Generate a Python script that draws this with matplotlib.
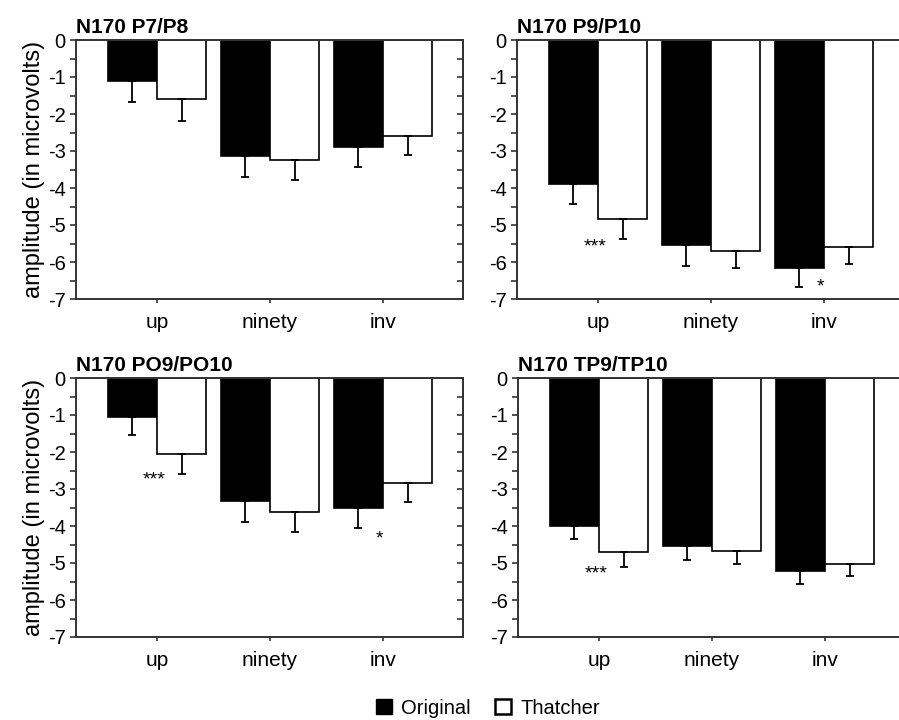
import numpy as np
import matplotlib.pyplot as plt
from matplotlib.patches import Patch

plt.rcParams['font.family'] = ['Liberation Sans', 'DejaVu Sans']

# conditions and electrode sites
conditions = ["up", "ninety", "inv"]
titles = ["N170 P7/P8", "N170 P9/P10", "N170 PO9/PO10", "N170 TP9/TP10"]

# mean amplitudes (microvolts) and error bars, one row per panel
original_mean = [[-1.12, -3.13, -2.89],
                 [-3.88, -5.55, -6.17],
                 [-1.05, -3.33, -3.52],
                 [-3.99, -4.54, -5.22]]
original_err = [[0.56, 0.58, 0.53],
                [0.56, 0.55, 0.50],
                [0.49, 0.57, 0.54],
                [0.36, 0.38, 0.36]]
thatcher_mean = [[-1.60, -3.25, -2.59],
                 [-4.85, -5.69, -5.59],
                 [-2.05, -3.61, -2.85],
                 [-4.71, -4.68, -5.04]]
thatcher_err = [[0.59, 0.54, 0.51],
                [0.54, 0.48, 0.46],
                [0.54, 0.56, 0.51],
                [0.41, 0.36, 0.32]]

# significance marks: panel, condition, label, height
sig_panel = [1, 1, 2, 2, 3]
sig_cond = [0, 2, 0, 2, 0]
sig_label = ["***", "*", "***", "*", "***"]
sig_y = [-5.59, -6.67, -2.75, -4.34, -5.30]

W, H = 899, 720
fig = plt.figure(figsize=(W / 100, H / 100), dpi=100)

# axes boxes in pixels: left, top, right, bottom
boxes = [(76, 40, 463, 299), (517, 40, 904, 299),
         (76, 378, 463, 637), (518, 378, 905, 637)]

spine_col = "#333333"
w = 0.435
x = np.arange(len(conditions))
axes = []

for i, (l, t, r, b) in enumerate(boxes):
    ax = fig.add_axes([l / W, 1 - b / H, (r - l) / W, (b - t) / H])
    axes.append(ax)
    ax.bar(x - w / 2, original_mean[i], w, color="black", edgecolor="black",
           linewidth=1.2, zorder=2)
    ax.bar(x + w / 2, thatcher_mean[i], w, color="white", edgecolor="black",
           linewidth=1.2, zorder=2)
    # one-sided (downward) error bars
    ax.errorbar(x - w / 2, original_mean[i],
                yerr=[original_err[i], np.zeros(3)], fmt="none",
                ecolor="black", elinewidth=1.3, capsize=2.6, capthick=1.3, zorder=3)
    ax.errorbar(x + w / 2, thatcher_mean[i],
                yerr=[thatcher_err[i], np.zeros(3)], fmt="none",
                ecolor="black", elinewidth=1.3, capsize=2.6, capthick=1.3, zorder=3)

    ax.set_xlim(-0.717, 2.708)
    ax.set_ylim(-7, 0)
    ax.set_xticks(x)
    ax.set_xticklabels(conditions, fontsize=15)
    ax.set_yticks(np.arange(-7, 1))
    ax.set_yticklabels([str(v) for v in range(-7, 1)], fontsize=14.5)
    ax.set_yticks(np.arange(-6.5, 0, 1.0), minor=True)
    ax.tick_params(axis="y", which="both", direction="out", length=4.5,
                   width=1.2, color=spine_col, pad=3)
    ax.tick_params(axis="x", direction="out", length=3, width=1.2,
                   color=spine_col, pad=7)
    for side in ["left", "top", "bottom", "right"]:
        ax.spines[side].set_color(spine_col)
        ax.spines[side].set_linewidth(1.4)
    ax.set_title(titles[i], loc="left", fontsize=15, fontweight="bold", pad=5)

    if i % 2 == 0:
        ax.set_ylabel("amplitude (in microvolts)", fontsize=17, labelpad=2)
        sec = ax.secondary_yaxis("right")
        sec.set_yticks(np.arange(-7, 1))
        sec.set_yticks(np.arange(-6.5, 0, 1.0), minor=True)
        sec.tick_params(axis="y", which="both", direction="in", length=4.5,
                        width=1.2, color=spine_col, labelright=False)
        sec.spines["right"].set_color(spine_col)
        sec.spines["right"].set_linewidth(1.4)

for p, c, label, y in zip(sig_panel, sig_cond, sig_label, sig_y):
    axes[p].text(c - 0.03, y, label, fontsize=14, ha="center", va="center",
                 zorder=4)

handles = [Patch(facecolor="black", edgecolor="black", label="Original"),
           Patch(facecolor="white", edgecolor="black", linewidth=1.8, label="Thatcher")]
fig.legend(handles=handles, loc="center", bbox_to_anchor=(488 / W, 1 - 708 / H),
           ncol=2, frameon=False, fontsize=14.5, handlelength=0.8,
           handleheight=0.8, handletextpad=0.45, columnspacing=1.2)

fig.savefig("out.png", dpi=100)
